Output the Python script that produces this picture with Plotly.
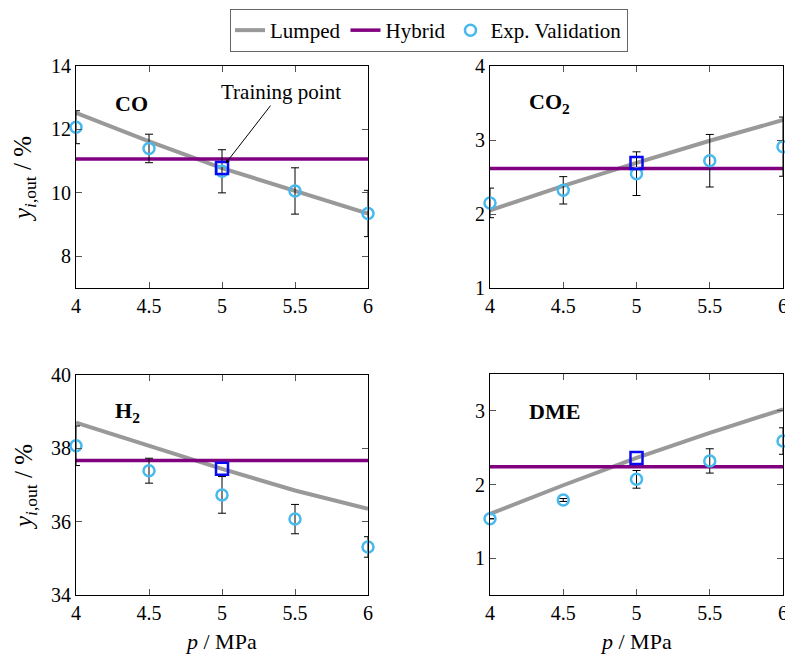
import plotly.graph_objects as go

# ---------------- data ----------------
pressure = [4, 4.5, 5, 5.5, 6]
x_ticks = [4, 4.5, 5, 5.5, 6]
x_tick_labels = ["4", "4.5", "5", "5.5", "6"]

# CO
co_lumped = [12.52, 11.62, 10.78, 10.05, 9.35]
co_hybrid = [11.07, 11.07, 11.07, 11.07, 11.07]
co_exp = [12.07, 11.40, 10.68, 10.06, 9.35]
co_err = [0.52, 0.45, 0.68, 0.73, 0.73]
co_ticks = [8, 10, 12, 14]

# CO2
co2_lumped = [2.05, 2.38, 2.69, 2.99, 3.27]
co2_hybrid = [2.615, 2.615, 2.615, 2.615, 2.615]
co2_exp = [2.15, 2.32, 2.545, 2.72, 2.91]
co2_err = [0.20, 0.185, 0.295, 0.355, 0.40]
co2_ticks = [1, 2, 3, 4]

# H2
h2_lumped = [38.70, 38.07, 37.44, 36.85, 36.35]
h2_hybrid = [37.67, 37.67, 37.67, 37.67, 37.67]
h2_exp = [38.07, 37.39, 36.73, 36.07, 35.31]
h2_err = [0.54, 0.34, 0.50, 0.40, 0.28]
h2_ticks = [34, 36, 38, 40]

# DME
dme_lumped = [1.60, 1.99, 2.36, 2.70, 3.02]
dme_hybrid = [2.24, 2.24, 2.24, 2.24, 2.24]
dme_exp = [1.535, 1.79, 2.07, 2.32, 2.59]
dme_err = [0.0, 0.02, 0.12, 0.165, 0.18]
dme_ticks = [1, 2, 3]

training_index = 2  # p = 5 MPa

panels = [
    dict(name="<b>CO</b>", lumped=co_lumped, hybrid=co_hybrid, exp=co_exp, err=co_err,
         ticks=co_ticks, yrange=[7, 14]),
    dict(name="<b>CO<sub>2</sub></b>", lumped=co2_lumped, hybrid=co2_hybrid, exp=co2_exp, err=co2_err,
         ticks=co2_ticks, yrange=[1, 4]),
    dict(name="<b>H<sub>2</sub></b>", lumped=h2_lumped, hybrid=h2_hybrid, exp=h2_exp, err=h2_err,
         ticks=h2_ticks, yrange=[34, 40]),
    dict(name="<b>DME</b>", lumped=dme_lumped, hybrid=dme_hybrid, exp=dme_exp, err=dme_err,
         ticks=dme_ticks, yrange=[0.5, 3.5]),
]

# ---------------- layout ----------------
W, H = 785, 654
FONT = "Liberation Serif, Times New Roman, serif"
GRAY = "#999999"
PURPLE = "#800080"
SKY = "#47b9ec"
BLUE = "#0a0af0"

px_x = [(76, 368), (490, 783), (76, 368), (490, 783)]
px_y = [(66, 288), (66, 288), (375, 595), (374, 595)]

fig = go.Figure()
layout = dict(
    width=W, height=H,
    margin=dict(l=0, r=0, t=0, b=0),
    paper_bgcolor="white", plot_bgcolor="white",
    font=dict(family=FONT, size=19, color="black"),
    showlegend=True,
    legend=dict(orientation="h", x=0.5465, xanchor="center", y=1 - 9 / H, yanchor="top",
                bordercolor="#666666", borderwidth=1, bgcolor="white",
                font=dict(family=FONT, size=21, color="black"), itemwidth=30,
                tracegroupgap=0),
)

annotations = []
for i, pn in enumerate(panels):
    k = "" if i == 0 else str(i + 1)
    xa, ya = "x" + k, "y" + k
    x0, x1 = px_x[i]
    y0, y1 = px_y[i]
    axis_common = dict(showgrid=False, zeroline=False, showline=True, linecolor="black",
                       linewidth=1, mirror="ticks", ticks="inside", ticklen=6,
                       tickcolor="#555555", tickwidth=1, automargin=False,
                       ticklabeloverflow="allow",
                       tickfont=dict(family=FONT, size=20, color="black"))
    layout["xaxis" + k] = dict(axis_common, domain=[x0 / W, x1 / W], range=[4, 6],
                               tickvals=x_ticks, ticktext=x_tick_labels, anchor=ya)
    layout["yaxis" + k] = dict(axis_common, domain=[1 - y1 / H, 1 - y0 / H], range=pn["yrange"],
                               tickvals=pn["ticks"], anchor=xa)
    first = i == 0
    fig.add_trace(go.Scatter(x=pressure, y=pn["lumped"], mode="lines", name="Lumped",
                             line=dict(color=GRAY, width=4), xaxis=xa, yaxis=ya,
                             showlegend=first, legendgroup="l"))
    fig.add_trace(go.Scatter(x=pressure, y=pn["hybrid"], mode="lines", name="Hybrid",
                             line=dict(color=PURPLE, width=3.5), xaxis=xa, yaxis=ya,
                             showlegend=first, legendgroup="h"))
    fig.add_trace(go.Scatter(x=pressure, y=pn["exp"], mode="markers", name="Exp. Validation",
                             marker=dict(symbol="circle-open", size=11, color=SKY,
                                         line=dict(width=2.5, color=SKY)),
                             error_y=dict(type="data", array=pn["err"], visible=True,
                                          color="black", thickness=1, width=4),
                             cliponaxis=False, xaxis=xa, yaxis=ya,
                             showlegend=first, legendgroup="e"))
    fig.add_trace(go.Scatter(x=[pressure[training_index]], y=[pn["lumped"][training_index]],
                             mode="markers", name="Training point",
                             marker=dict(symbol="square-open", size=12, color=BLUE,
                                         line=dict(width=2.5, color=BLUE)),
                             cliponaxis=False, xaxis=xa, yaxis=ya, showlegend=False))
    # species label
    annotations.append(dict(text=pn["name"], xref="paper", yref="paper",
                            x=(x0 + 37) / W, y=1 - (y0 + 37) / H, xanchor="left", yanchor="middle",
                            showarrow=False, font=dict(family=FONT, size=22, color="black")))

# training point annotation (top-left panel)
annotations.append(dict(text="Training point", xref="x", yref="y",
                        x=pressure[training_index], y=co_lumped[training_index],
                        ax=59, ay=-76, axref="pixel", ayref="pixel",
                        showarrow=True, arrowhead=2, arrowsize=0.8, arrowwidth=1,
                        arrowcolor="black", standoff=6,
                        font=dict(family=FONT, size=21, color="black")))

# y axis titles
ytitle = "<i>y</i><sub><i>i</i>,out</sub> / %"
for yc in (179, 487):
    annotations.append(dict(text=ytitle, xref="paper", yref="paper", x=25 / W, y=1 - yc / H,
                            xanchor="center", yanchor="middle", textangle=-90, showarrow=False,
                            font=dict(family=FONT, size=25, color="black")))
# x axis titles
for xc in (221, 636):
    annotations.append(dict(text="<i>p</i> / MPa", xref="paper", yref="paper", x=xc / W,
                            y=1 - 641 / H, xanchor="center", yanchor="middle", showarrow=False,
                            font=dict(family=FONT, size=22, color="black")))

layout["annotations"] = annotations
fig.update_layout(**layout)
fig.write_html("out.html")
